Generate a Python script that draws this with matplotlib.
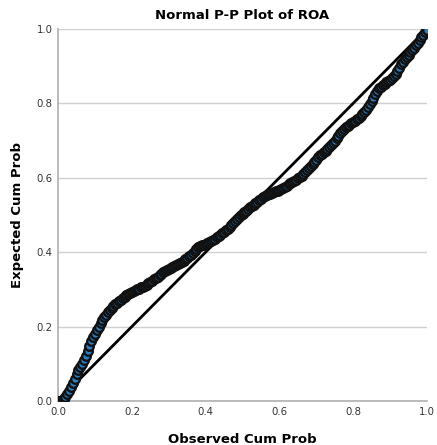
import matplotlib.pyplot as plt

# observed vs expected cumulative probability
observed = [0.000, 0.005, 0.010, 0.015, 0.020, 0.025, 0.030, 0.035, 0.040, 0.045,
            0.050, 0.055, 0.060, 0.065, 0.070, 0.075, 0.080, 0.085, 0.090, 0.095,
            0.100, 0.105, 0.110, 0.115, 0.120, 0.125, 0.130, 0.135, 0.140, 0.145,
            0.150, 0.155, 0.160, 0.165, 0.170, 0.175, 0.180, 0.185, 0.190, 0.195,
            0.200, 0.205, 0.210, 0.215, 0.220, 0.225, 0.230, 0.235, 0.240, 0.245,
            0.250, 0.255, 0.260, 0.265, 0.270, 0.275, 0.280, 0.285, 0.290, 0.295,
            0.300, 0.305, 0.310, 0.315, 0.320, 0.325, 0.330, 0.335, 0.340, 0.345,
            0.350, 0.355, 0.360, 0.365, 0.370, 0.375, 0.380, 0.385, 0.390, 0.395,
            0.400, 0.405, 0.410, 0.415, 0.420, 0.425, 0.430, 0.435, 0.440, 0.445,
            0.450, 0.455, 0.460, 0.465, 0.470, 0.475, 0.480, 0.485, 0.490, 0.495,
            0.500, 0.505, 0.510, 0.515, 0.520, 0.525, 0.530, 0.535, 0.540, 0.545,
            0.550, 0.555, 0.560, 0.565, 0.570, 0.575, 0.580, 0.585, 0.590, 0.595,
            0.600, 0.605, 0.610, 0.615, 0.620, 0.625, 0.630, 0.635, 0.640, 0.645,
            0.650, 0.655, 0.660, 0.665, 0.670, 0.675, 0.680, 0.685, 0.690, 0.695,
            0.700, 0.705, 0.710, 0.715, 0.720, 0.725, 0.730, 0.735, 0.740, 0.745,
            0.750, 0.755, 0.760, 0.765, 0.770, 0.775, 0.780, 0.785, 0.790, 0.795,
            0.800, 0.805, 0.810, 0.815, 0.820, 0.825, 0.830, 0.835, 0.840, 0.845,
            0.850, 0.855, 0.860, 0.865, 0.870, 0.875, 0.880, 0.885, 0.890, 0.895,
            0.900, 0.905, 0.910, 0.915, 0.920, 0.925, 0.930, 0.935, 0.940, 0.945,
            0.950, 0.955, 0.960, 0.965, 0.970, 0.975, 0.980, 0.985, 0.990, 0.995,
            1.000]
expected = [0.000, 0.001, 0.002, 0.004, 0.010, 0.018, 0.028, 0.038, 0.048, 0.060,
            0.072, 0.082, 0.091, 0.100, 0.110, 0.122, 0.134, 0.147, 0.160, 0.171,
            0.181, 0.191, 0.200, 0.209, 0.218, 0.225, 0.232, 0.239, 0.245, 0.250,
            0.255, 0.260, 0.264, 0.268, 0.272, 0.276, 0.280, 0.284, 0.288, 0.291,
            0.293, 0.295, 0.297, 0.300, 0.302, 0.305, 0.307, 0.310, 0.313, 0.316,
            0.320, 0.323, 0.327, 0.330, 0.334, 0.338, 0.342, 0.346, 0.349, 0.352,
            0.354, 0.357, 0.360, 0.363, 0.366, 0.368, 0.371, 0.374, 0.377, 0.381,
            0.385, 0.389, 0.393, 0.397, 0.402, 0.408, 0.413, 0.416, 0.418, 0.420,
            0.422, 0.424, 0.426, 0.429, 0.432, 0.436, 0.440, 0.443, 0.447, 0.451,
            0.455, 0.459, 0.463, 0.467, 0.472, 0.478, 0.485, 0.490, 0.494, 0.499,
            0.503, 0.507, 0.511, 0.516, 0.520, 0.524, 0.528, 0.532, 0.536, 0.540,
            0.544, 0.547, 0.550, 0.553, 0.555, 0.557, 0.559, 0.561, 0.563, 0.565,
            0.567, 0.570, 0.573, 0.576, 0.579, 0.582, 0.585, 0.588, 0.591, 0.594,
            0.598, 0.602, 0.606, 0.610, 0.615, 0.620, 0.625, 0.631, 0.637, 0.643,
            0.649, 0.655, 0.660, 0.664, 0.668, 0.672, 0.677, 0.682, 0.688, 0.694,
            0.700, 0.706, 0.713, 0.720, 0.726, 0.731, 0.736, 0.740, 0.743, 0.746,
            0.749, 0.753, 0.757, 0.761, 0.766, 0.771, 0.777, 0.783, 0.790, 0.797,
            0.805, 0.815, 0.825, 0.833, 0.840, 0.844, 0.848, 0.852, 0.856, 0.860,
            0.864, 0.868, 0.873, 0.879, 0.886, 0.895, 0.905, 0.912, 0.918, 0.924,
            0.930, 0.937, 0.944, 0.950, 0.957, 0.963, 0.970, 0.977, 0.985, 0.991,
            0.997]
ticks = [0.0, 0.2, 0.4, 0.6, 0.8, 1.0]
tick_labels = ["0.0", "0.2", "0.4", "0.6", "0.8", "1.0"]

fig = plt.figure(figsize=(4.37, 4.45), dpi=100)
ax = fig.add_axes([0.133, 0.099, 0.844, 0.836])

# reference line
ax.plot([0, 1], [0, 1], color="black", linewidth=2, zorder=2)
ax.plot(observed, expected, linestyle="none", marker="o", markersize=6.2,
        markerfacecolor="#2a7fc4", markeredgecolor="#111111", markeredgewidth=1.7,
        zorder=3)

ax.set_xlim(0, 1)
ax.set_ylim(0, 1)
ax.set_xticks(ticks)
ax.set_xticklabels(tick_labels)
ax.set_yticks(ticks)
ax.set_yticklabels(tick_labels)
ax.tick_params(length=0, labelsize=7.3, labelcolor="#333333", pad=4)
ax.yaxis.grid(True, color="#d0d0d0", linewidth=1)
ax.set_axisbelow(True)

for side in ["top", "right"]:
    ax.spines[side].set_visible(False)
for side in ["left", "bottom"]:
    ax.spines[side].set_color("#b0b0b0")
    ax.spines[side].set_linewidth(1.2)

ax.set_title("Normal P-P Plot of ROA", fontsize=9.5, fontweight="bold", pad=7)
ax.set_xlabel("Observed Cum Prob", fontsize=9.5, fontweight="bold", labelpad=12)
ax.set_ylabel("Expected Cum Prob", fontsize=9.5, fontweight="bold", labelpad=9)

fig.savefig("out.png", dpi=100)
